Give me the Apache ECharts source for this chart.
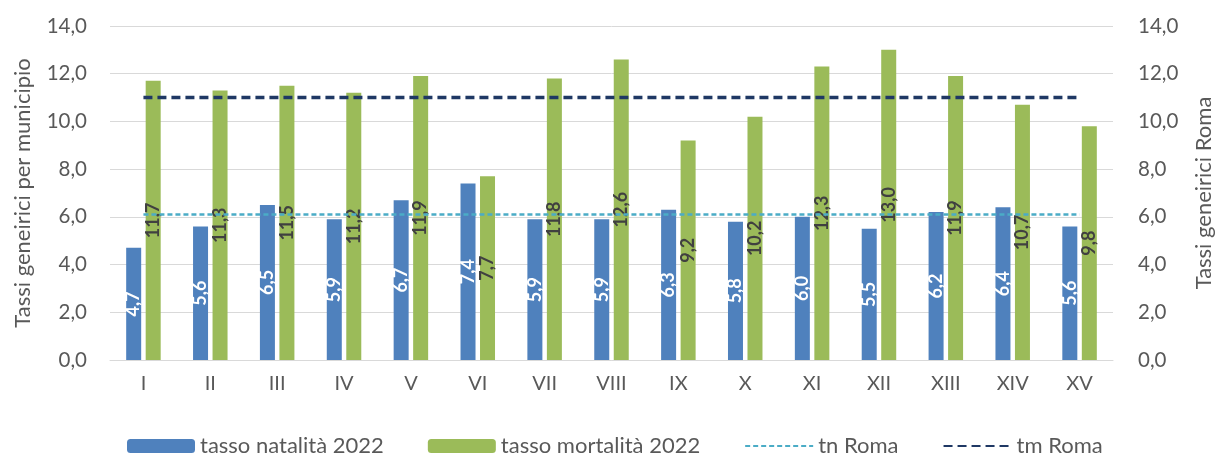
<!DOCTYPE html>
<html>
<head>
<meta charset="UTF-8">
<title>Tassi generici</title>
<script src="https://cdn.jsdelivr.net/npm/echarts@6/dist/echarts.min.js"></script>
<style>
	html, body { margin: 0; padding: 0; background: #fff; }
	#main { width: 1223px; height: 453px; }
</style>
</head>
<body>
<div id="main"></div>
<script>
	// dati
	var municipi = ['I', 'II', 'III', 'IV', 'V', 'VI', 'VII', 'VIII', 'IX', 'X', 'XI', 'XII', 'XIII', 'XIV', 'XV'];
	var natalita = [4.7, 5.6, 6.5, 5.9, 6.7, 7.4, 5.9, 5.9, 6.3, 5.8, 6.0, 5.5, 6.2, 6.4, 5.6];
	var mortalita = [11.7, 11.3, 11.5, 11.2, 11.9, 7.7, 11.8, 12.6, 9.2, 10.2, 12.3, 13.0, 11.9, 10.7, 9.8];
	var tnRoma = 6.1;
	var tmRoma = 11.0;

	var fontFam = 'Lato, "Open Sans", sans-serif';
	function virgola(v) { return Number(v).toFixed(1).replace('.', ','); }

	var myChart = echarts.init(document.getElementById('main'));

	myChart.setOption({
		animation: false,
		textStyle: { fontFamily: fontFam },
		grid: { left: 110, right: 106, top: 26, bottom: 93 },
		legend: {
			top: 430,
			left: 122,
			itemWidth: 68,
			itemHeight: 14,
			itemGap: 44,
			textStyle: { color: '#595959', fontSize: 22, fontFamily: fontFam },
			data: [
				'tasso natalità 2022',
				'tasso mortalità 2022',
				{ name: 'tn Roma', itemStyle: { opacity: 0 } },
				{ name: 'tm Roma', itemStyle: { opacity: 0 } }
			]
		},
		xAxis: {
			type: 'category',
			data: municipi,
			axisLine: { lineStyle: { color: '#d9d9d9' } },
			axisTick: { show: false },
			axisLabel: { color: '#595959', fontSize: 20, margin: 14 }
		},
		yAxis: [
			{
				type: 'value', min: 0, max: 14, interval: 2,
				name: 'Tassi geneirici per municipio',
				nameLocation: 'middle', nameGap: 76,
				nameTextStyle: { color: '#595959', fontSize: 22 },
				axisLabel: { color: '#595959', fontSize: 20.5, margin: 23, formatter: virgola },
				splitLine: { lineStyle: { color: '#d9d9d9', width: 1 } }
			},
			{
				type: 'value', min: 0, max: 14, interval: 2,
				name: 'Tassi geneirici Roma',
				nameLocation: 'middle', nameGap: 80,
				nameTextStyle: { color: '#595959', fontSize: 22 },
				axisLabel: { color: '#595959', fontSize: 20.5, margin: 25, formatter: virgola },
				splitLine: { show: false }
			}
		],
		series: [
			{
				name: 'tasso natalità 2022',
				type: 'bar',
				data: natalita,
				barWidth: 15,
				barGap: '30%',
				itemStyle: { color: '#4f81bd' },
				label: {
					show: true, position: 'inside', rotate: 90,
					color: '#fff', fontSize: 18, fontWeight: 'bold',
					formatter: function (p) { return virgola(p.value); }
				}
			},
			{
				name: 'tasso mortalità 2022',
				type: 'bar',
				data: mortalita,
				barWidth: 15,
				itemStyle: { color: '#9bbb59' },
				label: {
					show: true, position: 'inside', rotate: 90,
					color: '#404040', fontSize: 18, fontWeight: 'bold',
					formatter: function (p) { return virgola(p.value); }
				}
			},
			{
				name: 'tn Roma',
				type: 'line',
				yAxisIndex: 1,
				data: municipi.map(function () { return tnRoma; }),
				symbol: 'none',
				itemStyle: { color: '#4bacc6' },
				lineStyle: { color: '#4bacc6', width: 2.5, type: [5, 3] },
				z: 5
			},
			{
				name: 'tm Roma',
				type: 'line',
				yAxisIndex: 1,
				data: municipi.map(function () { return tmRoma; }),
				symbol: 'none',
				itemStyle: { color: '#1f3864' },
				lineStyle: { color: '#1f3864', width: 3.5, type: [9, 5] },
				z: 5
			}
		]
	});
</script>
</body>
</html>
